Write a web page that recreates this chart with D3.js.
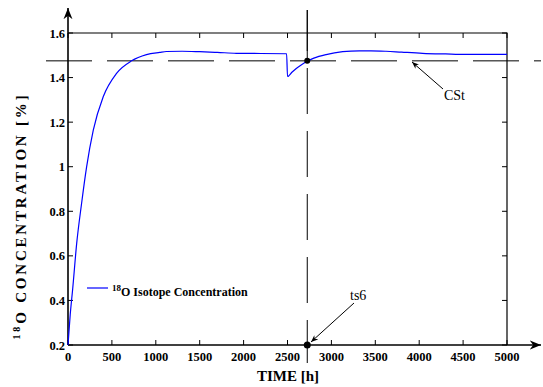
<!DOCTYPE html>
<html>
<head>
<meta charset="utf-8">
<script src="https://cdn.jsdelivr.net/npm/d3@7"></script>
<style>
  body { margin: 0; background: #fff; }
  svg { display: block; font-family: "Liberation Serif", "Times New Roman", serif; }
</style>
</head>
<body>
<div id="chart"></div>
<script>
// values
const timeH = [0, 25, 53, 99, 155, 212, 288, 401, 553, 724, 894, 1045, 1121, 1300, 1500, 1700, 1917, 2200, 2490,
  2500, 2550, 2600, 2660, 2731, 2800, 2940, 3129, 3318, 3450, 3622, 3800, 4038, 4300, 4531, 4800, 5000];
const concentration = [0.2, 0.335, 0.45, 0.656, 0.836, 0.999, 1.164, 1.314, 1.419, 1.475, 1.503, 1.513, 1.517, 1.518, 1.516, 1.513, 1.509, 1.508, 1.507,
  1.405, 1.424, 1.441, 1.458, 1.475, 1.487, 1.503, 1.516, 1.520, 1.520, 1.518, 1.514, 1.509, 1.506, 1.504, 1.504, 1.504];
const xTicks = [0, 500, 1000, 1500, 2000, 2500, 3000, 3500, 4000, 4500, 5000];
const yTicks = [0.2, 0.4, 0.6, 0.8, 1, 1.2, 1.4, 1.6];
const steadyConc = 1.475;   // CSt
const switchTime = 2725;    // ts6

const width = 543, height = 387;
const margin = { left: 68, right: 36, top: 33, bottom: 42 };

const svg = d3.select('#chart').append('svg')
  .attr('width', width)
  .attr('height', height);

const x = d3.scaleLinear().domain([0, 5000]).range([margin.left, width - margin.right]);
const y = d3.scaleLinear().domain([0.2, 1.6]).range([height - margin.bottom, margin.top]);

const x0 = x.range()[0], x1 = x.range()[1];
const yTop = y.range()[1], yBot = y.range()[0];

// arrow marker
const defs = svg.append('defs');
defs.append('marker')
  .attr('id', 'arrow')
  .attr('viewBox', '0 0 10 10')
  .attr('refX', 10).attr('refY', 5)
  .attr('markerWidth', 7).attr('markerHeight', 7)
  .attr('orient', 'auto-start-reverse')
  .append('path')
  .attr('d', 'M0,1 L10,5 L0,9 L3,5 Z')
  .attr('fill', '#000');

// frame: top and right borders
svg.append('path')
  .attr('d', `M${x0},${yTop} H${x1} V${yBot}`)
  .attr('fill', 'none')
  .attr('stroke', '#000')
  .attr('stroke-width', 1.2);

// axes with arrows
svg.append('line')
  .attr('x1', x0).attr('y1', yBot).attr('x2', x0).attr('y2', 8)
  .attr('stroke', '#000').attr('stroke-width', 1.6)
  .attr('marker-end', 'url(#arrow)');
svg.append('line')
  .attr('x1', x0).attr('y1', yBot).attr('x2', 541).attr('y2', yBot)
  .attr('stroke', '#000').attr('stroke-width', 1.6)
  .attr('marker-end', 'url(#arrow)');

// inward ticks
const tickLen = 5;
const ticks = svg.append('g').attr('stroke', '#000').attr('stroke-width', 1);
xTicks.forEach(t => {
  ticks.append('line').attr('x1', x(t)).attr('x2', x(t)).attr('y1', yBot).attr('y2', yBot - tickLen);
  ticks.append('line').attr('x1', x(t)).attr('x2', x(t)).attr('y1', yTop).attr('y2', yTop + tickLen);
});
yTicks.forEach(v => {
  ticks.append('line').attr('x1', x0).attr('x2', x0 + tickLen).attr('y1', y(v)).attr('y2', y(v));
  ticks.append('line').attr('x1', x1).attr('x2', x1 - tickLen).attr('y1', y(v)).attr('y2', y(v));
});

// tick labels
svg.append('g').selectAll('text')
  .data(xTicks)
  .join('text')
  .attr('x', d => x(d))
  .attr('y', yBot + 16)
  .attr('text-anchor', 'middle')
  .attr('font-size', 12.5)
  .attr('font-weight', 'bold')
  .text(d => d);

svg.append('g').selectAll('text')
  .data(yTicks)
  .join('text')
  .attr('x', x0 - 3)
  .attr('y', d => y(d) + 4.5)
  .attr('text-anchor', 'end')
  .attr('font-size', 12.5)
  .attr('font-weight', 'bold')
  .text(d => d3.format('~g')(d));

// dashed reference lines
svg.append('line')
  .attr('x1', 46).attr('x2', 541)
  .attr('y1', y(steadyConc)).attr('y2', y(steadyConc))
  .attr('stroke', '#000').attr('stroke-width', 1)
  .attr('stroke-dasharray', '46,15');

svg.append('line')
  .attr('x1', x(switchTime)).attr('x2', x(switchTime))
  .attr('y1', 10).attr('y2', 363)
  .attr('stroke', '#000').attr('stroke-width', 1)
  .attr('stroke-dasharray', '46,17')
  .attr('stroke-dashoffset', 5);
svg.append('line')
  .attr('x1', x(switchTime)).attr('x2', x(switchTime))
  .attr('y1', 10).attr('y2', 62)
  .attr('stroke', '#000').attr('stroke-width', 1);

// concentration curve
const data = timeH.map((t, i) => ({ t, v: concentration[i] }));
const line = d3.line()
  .x(d => x(d.t))
  .y(d => y(d.v))
  .curve(d3.curveMonotoneX);

svg.append('path')
  .datum(data)
  .attr('d', line)
  .attr('fill', 'none')
  .attr('stroke', '#0000ff')
  .attr('stroke-width', 1.2);

// markers
svg.append('circle').attr('cx', x(switchTime)).attr('cy', y(steadyConc)).attr('r', 3).attr('fill', '#000');
svg.append('circle').attr('cx', x(switchTime)).attr('cy', yBot).attr('r', 3.5).attr('fill', '#000');

// annotations
svg.append('line')
  .attr('x1', 443).attr('y1', 89).attr('x2', 412).attr('y2', 62)
  .attr('stroke', '#000').attr('stroke-width', 1)
  .attr('marker-end', 'url(#arrow)');
svg.append('text')
  .attr('x', 444).attr('y', 100)
  .attr('font-size', 14)
  .text('CSt');

svg.append('line')
  .attr('x1', 354).attr('y1', 303).attr('x2', 311).attr('y2', 342)
  .attr('stroke', '#000').attr('stroke-width', 1)
  .attr('marker-end', 'url(#arrow)');
svg.append('text')
  .attr('x', 350).attr('y', 300)
  .attr('font-size', 14)
  .text('ts6');

// legend
svg.append('line')
  .attr('x1', 87).attr('x2', 108).attr('y1', 288).attr('y2', 288)
  .attr('stroke', '#0000ff').attr('stroke-width', 1.2);
const leg = svg.append('text')
  .attr('x', 112).attr('y', 296)
  .attr('font-size', 12)
  .attr('font-weight', 'bold');
leg.append('tspan').attr('font-size', 9).attr('dy', -5).text('18');
leg.append('tspan').attr('dy', 5).text('O Isotope Concentration');

// axis titles
svg.append('text')
  .attr('x', 288).attr('y', 381)
  .attr('text-anchor', 'middle')
  .attr('font-size', 15)
  .attr('font-weight', 'bold')
  .text('TIME [h]');

const yt = svg.append('text')
  .attr('transform', 'translate(26,216) rotate(-90)')
  .attr('text-anchor', 'middle')
  .attr('font-size', 15)
  .attr('font-weight', 'bold')
  .attr('letter-spacing', 2.8);
yt.append('tspan').attr('font-size', 10).attr('dy', -6).text('18');
yt.append('tspan').attr('dy', 6).text('O CONCENTRATION [%]');
</script>
</body>
</html>
